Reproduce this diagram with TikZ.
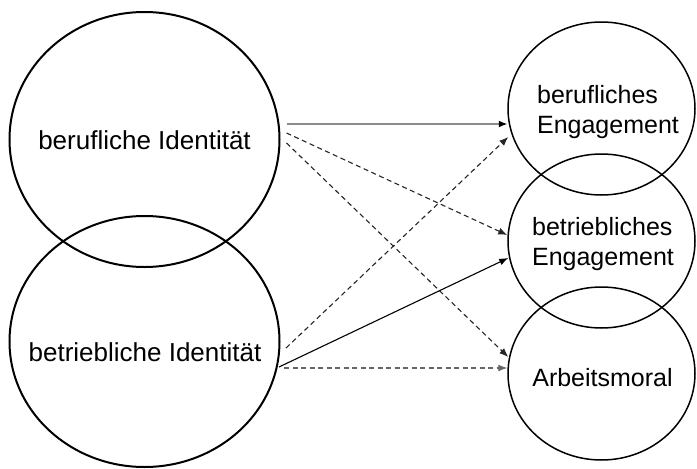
\documentclass[tikz,border=0pt]{standalone}
\usepackage{fontspec}
\setmainfont{Liberation Sans}
\usetikzlibrary{shapes.geometric,arrows.meta,calc}
\begin{document}
\begin{tikzpicture}[x=1pt,y=-1pt,
  bigcirc/.style={draw,ellipse,inner sep=0pt,line width=2pt,minimum width=270pt},
  smallcirc/.style={draw,ellipse,inner sep=0pt,line width=1.5pt,minimum width=187pt,minimum height=173pt},
  bigtext/.style={font=\fontsize{26}{30}\selectfont,inner sep=0pt},
  smalltext/.style={font=\fontsize{25}{29.5}\selectfont,align=left,inner sep=0pt},
  conn/.style={line width=1.1pt,-{Latex[length=9pt,width=7pt]}},
  dashconn/.style={conn,dash pattern=on 5pt off 3.5pt,draw=black!85}
]
\useasboundingbox (0,0) rectangle (697,469);
\node[bigcirc,minimum height=255pt] (bi) at (144.5,139.5) {};
\node[bigcirc,minimum height=251pt] (bb) at (144.5,341.5) {};
\node[smallcirc] (ea) at (601.5,108.5) {};
\node[smallcirc,minimum height=174pt] (eb) at (601.5,241) {};
\node[smallcirc] (am) at (601.5,373.5) {};
\node[bigtext] (tbi) at (144.5,140) {berufliche Identität};
\node[bigtext] (tbb) at (145,352) {betriebliche Identität};
\node[smalltext] (tea) at (608,112) {berufliches\\Engagement};
\node[smalltext] (teb) at (603,244) {betriebliches\\Engagement};
\node[smalltext] (tam) at (602.5,378) {Arbeitsmoral};
% arrows from berufliche Identitaet
\draw[conn,draw=black!45,line width=2pt,-{Latex[length=9pt,width=7pt,color=black]}]
  ($(bi.east)+(6,-15.5)$) -- ($(ea.west)+(0.5,15.5)$);
\draw[dashconn] ($(bi.east)+(6,-6.5)$) -- ($(eb.west)+(0,-6)$);
\draw[dashconn] ($(bi.east)+(6,3.5)$) -- ($(am.west)+(1,-16.5)$);
% arrows from betriebliche Identitaet
\draw[dashconn] ($(bb.east)+(5.5,6.5)$) -- ($(ea.west)+(1,28.5)$);
\draw[conn] ($(bb.east)+(-1.5,25.5)$) -- ($(eb.west)+(1,17)$);
\draw[dashconn,draw=black!60] ($(bb.east)+(3.5,26.5)$) -- ($(am.west)+(0,-5.5)$);
\end{tikzpicture}
\end{document}
